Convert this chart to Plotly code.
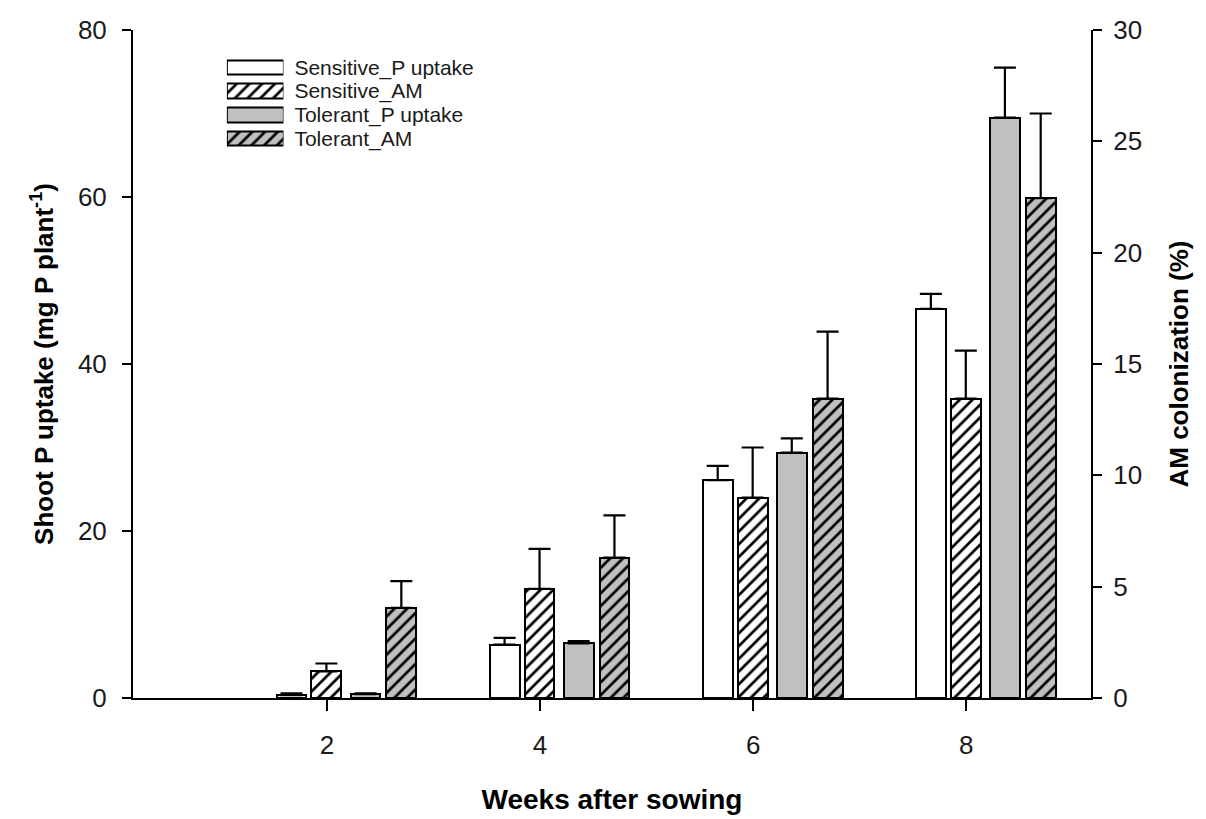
import plotly.graph_objects as go

# Weeks after sowing
weeks = [2, 4, 6, 8]

# Shoot P uptake (mg P plant-1), left axis
sens_p = [0.35, 6.4, 26.1, 46.6]
sens_p_err = [0.2, 0.8, 1.7, 1.8]
tol_p = [0.45, 6.55, 29.4, 69.5]
tol_p_err = [0.1, 0.25, 1.7, 6.0]

# AM colonization (%), right axis
sens_am = [1.2, 4.9, 9.0, 13.45]
sens_am_err = [0.35, 1.8, 2.25, 2.15]
tol_am = [4.05, 6.3, 13.45, 22.45]
tol_am_err = [1.2, 1.9, 3.0, 3.8]

series_names = ["Sensitive_P uptake", "Sensitive_AM", "Tolerant_P uptake", "Tolerant_AM"]

FONT = "Liberation Sans, Arial, sans-serif"
GREY = "#c0c0c0"
BAR_W = 0.28

styles = [
    dict(bg="white", hatch=""),
    dict(bg="white", hatch="/"),
    dict(bg=GREY, hatch=""),
    dict(bg=GREY, hatch="/"),
]
offsets = [-0.473, -0.145, 0.222, 0.558]
values = [sens_p, sens_am, tol_p, tol_am]
errors = [sens_p_err, sens_am_err, tol_p_err, tol_am_err]
yaxes = ["y", "y2", "y", "y2"]


def marker_for(style):
    m = dict(color=style["bg"], line=dict(color="black", width=2))
    if style["hatch"]:
        m["pattern"] = dict(shape=style["hatch"], fgcolor="black", bgcolor=style["bg"],
                            size=9, solidity=0.3, fillmode="replace")
    return m


fig = go.Figure()
for name, vals, errs, st, off, ya in zip(series_names, values, errors, styles, offsets, yaxes):
    fig.add_trace(go.Bar(
        x=weeks, y=vals, name=name, yaxis=ya,
        offset=off, width=BAR_W,
        marker=marker_for(st),
        error_y=dict(type="data", array=errs, arrayminus=[0] * len(errs), symmetric=False,
                     color="black", thickness=2.2, width=11),
        showlegend=False,
    ))

# Legend key: wide swatches in a small inset axis, names as its tick labels
for name, st in zip(series_names, styles):
    fig.add_trace(go.Bar(
        x=[1], y=[name], orientation="h", xaxis="x3", yaxis="y3",
        width=0.62, marker=marker_for(st), showlegend=False, hoverinfo="skip",
    ))

axis_common = dict(
    showline=True, linecolor="black", linewidth=2, ticks="outside",
    tickcolor="black", tickwidth=2, showgrid=False, zeroline=False, automargin=False,
    tickfont=dict(family=FONT, size=26, color="#1a1a1a"),
)

fig.update_layout(
    width=1206, height=819,
    margin=dict(l=133, r=115, t=30, b=121, autoexpand=False),
    paper_bgcolor="white", plot_bgcolor="white",
    barmode="overlay", bargap=0,
    showlegend=False,
    xaxis=dict(
        range=[0.18, 9.17], tickvals=weeks, ticklen=11, ticklabelstandoff=12,
        title=dict(text="<b>Weeks after sowing</b>", font=dict(family=FONT, size=28, color="black"), standoff=30),
        **axis_common,
    ),
    yaxis=dict(
        range=[0, 80], tickvals=[0, 20, 40, 60, 80], ticklen=9, ticklabelstandoff=10,
        title=dict(text="<b>Shoot P uptake (mg P plant<sup>-1</sup>)</b>", font=dict(family=FONT, size=26, color="black"), standoff=17),
        **axis_common,
    ),
    yaxis2=dict(
        range=[0, 30], tickvals=[0, 5, 10, 15, 20, 25, 30], ticklen=9, ticklabelstandoff=6,
        overlaying="y", side="right", anchor="x",
        title=dict(text="<b>AM colonization (%)</b>", font=dict(family=FONT, size=26, color="black"), standoff=29),
        **axis_common,
    ),
    xaxis3=dict(domain=[0.098, 0.157], range=[0, 1], visible=False, fixedrange=True, anchor="y3"),
    yaxis3=dict(
        domain=[0.82, 0.962], anchor="x3", side="right", autorange="reversed",
        showline=False, ticks="", showgrid=False, zeroline=False, automargin=False,
        tickmode="array", tickvals=series_names, ticktext=series_names,
        categoryorder="array", categoryarray=series_names,
        tickfont=dict(family=FONT, size=21, color="#1a1a1a"), ticklabelstandoff=10,
    ),
)

fig.write_html("out.html")
